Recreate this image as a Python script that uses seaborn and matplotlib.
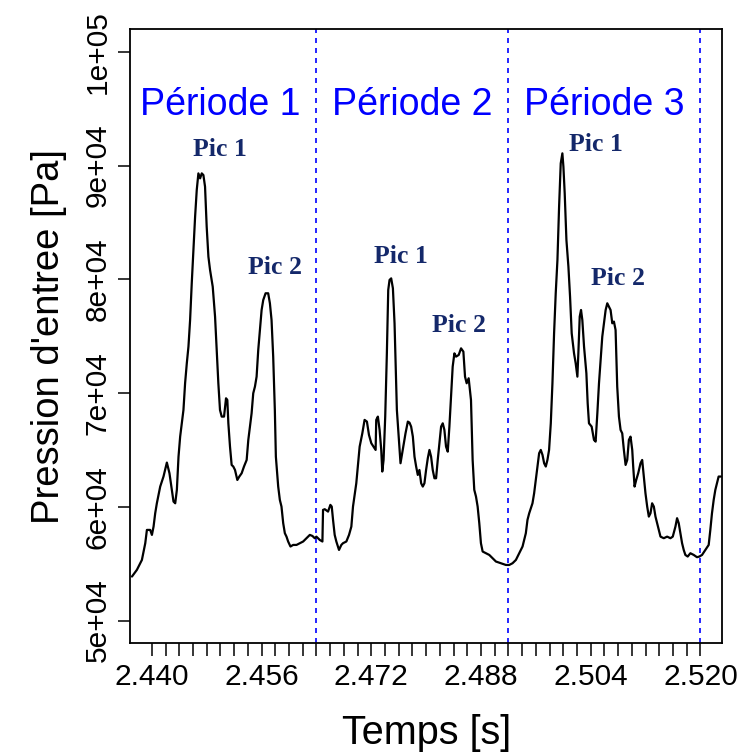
import matplotlib
matplotlib.use("Agg")
import matplotlib.pyplot as plt
import seaborn as sns
import pandas as pd
import numpy as np

# ---- data (time in s, pressure in Pa) ----
time_s = [
    2.43709, 2.43781, 2.43854, 2.43903, 2.43927, 2.43975, 2.44000, 2.44024, 2.44048, 2.44072,
    2.44121, 2.44169, 2.44218, 2.44256, 2.44290, 2.44315, 2.44340, 2.44364, 2.44388, 2.44412,
    2.44436, 2.44460, 2.44484, 2.44509, 2.44533, 2.44557, 2.44581, 2.44606, 2.44630, 2.44654,
    2.44678, 2.44703, 2.44727, 2.44751, 2.44775, 2.44799, 2.44824, 2.44848, 2.44887, 2.44921,
    2.44945, 2.44969, 2.44993, 2.45018, 2.45052, 2.45081, 2.45100, 2.45115, 2.45139, 2.45163,
    2.45187, 2.45212, 2.45246, 2.45275, 2.45309, 2.45343, 2.45382, 2.45406, 2.45454, 2.45478,
    2.45503, 2.45527, 2.45551, 2.45575, 2.45600, 2.45624, 2.45658, 2.45696, 2.45721, 2.45745,
    2.45769, 2.45793, 2.45808, 2.45842, 2.45866, 2.45890, 2.45915, 2.45939, 2.45963, 2.45987,
    2.46021, 2.46060, 2.46109, 2.46157, 2.46206, 2.46254, 2.46303, 2.46341, 2.46375, 2.46399,
    2.46448, 2.46487, 2.46496, 2.46521, 2.46569, 2.46603, 2.46623, 2.46642, 2.46666, 2.46690,
    2.46729, 2.46763, 2.46787, 2.46836, 2.46875, 2.46909, 2.46933, 2.46981, 2.47030, 2.47069,
    2.47102, 2.47136, 2.47166, 2.47200, 2.47233, 2.47263, 2.47272, 2.47296, 2.47321, 2.47345,
    2.47360, 2.47379, 2.47403, 2.47427, 2.47447, 2.47466, 2.47490, 2.47515, 2.47539, 2.47553,
    2.47573, 2.47602, 2.47626, 2.47650, 2.47675, 2.47699, 2.47733, 2.47757, 2.47781, 2.47806,
    2.47830, 2.47854, 2.47878, 2.47902, 2.47927, 2.47951, 2.47975, 2.47999, 2.48024, 2.48048,
    2.48072, 2.48096, 2.48121, 2.48145, 2.48169, 2.48193, 2.48218, 2.48242, 2.48266, 2.48290,
    2.48315, 2.48339, 2.48363, 2.48387, 2.48412, 2.48436, 2.48475, 2.48509, 2.48543, 2.48567,
    2.48591, 2.48620, 2.48654, 2.48678, 2.48702, 2.48727, 2.48751, 2.48775, 2.48799, 2.48824,
    2.48872, 2.48921, 2.48969, 2.49018, 2.49090, 2.49163, 2.49212, 2.49260, 2.49309, 2.49357,
    2.49406, 2.49454, 2.49478, 2.49503, 2.49527, 2.49551, 2.49575, 2.49599, 2.49624, 2.49648,
    2.49672, 2.49697, 2.49721, 2.49745, 2.49769, 2.49793, 2.49818, 2.49842, 2.49866, 2.49890,
    2.49915, 2.49939, 2.49963, 2.49987, 2.50002, 2.50021, 2.50046, 2.50075, 2.50099, 2.50123,
    2.50157, 2.50181, 2.50206, 2.50220, 2.50240, 2.50259, 2.50278, 2.50303, 2.50337, 2.50356,
    2.50375, 2.50414, 2.50448, 2.50472, 2.50497, 2.50521, 2.50545, 2.50569, 2.50593, 2.50618,
    2.50642, 2.50666, 2.50690, 2.50715, 2.50739, 2.50763, 2.50787, 2.50812, 2.50836, 2.50860,
    2.50884, 2.50909, 2.50933, 2.50957, 2.50981, 2.51006, 2.51020, 2.51040, 2.51064, 2.51093,
    2.51127, 2.51151, 2.51175, 2.51199, 2.51224, 2.51248, 2.51272, 2.51296, 2.51321, 2.51345,
    2.51369, 2.51393, 2.51418, 2.51466, 2.51515, 2.51563, 2.51597, 2.51636, 2.51660, 2.51684,
    2.51709, 2.51733, 2.51757, 2.51781, 2.51815, 2.51854, 2.51903, 2.51951, 2.51985, 2.52024,
    2.52072, 2.52121, 2.52145, 2.52169, 2.52194, 2.52218, 2.52242, 2.52266, 2.52300,
]
pressure_pa = [
    53870, 54460, 55330, 56800, 57970, 57970, 57530, 58260, 59430, 60310,
    61780, 62660, 63890, 62950, 61490, 60460, 60310, 61490, 64410, 66170,
    67340, 68510, 70860, 72620, 74080, 76420, 79640, 82570, 85500, 87850,
    89310, 88870, 89310, 89160, 88140, 84620, 81990, 80820, 79350, 76720,
    73790, 70860, 68510, 67930, 67930, 69540, 69390, 67340, 65290, 63680,
    63540, 63240, 62360, 62660, 62950, 63540, 64120, 65880, 68220, 69980,
    70570, 71440, 73790, 75540, 77300, 78180, 78770, 78770, 77890, 76420,
    73200, 68510, 64410, 61780, 60610, 60020, 58560, 57680, 57380, 56950,
    56510, 56650, 56650, 56800, 56950, 57240, 57530, 57440, 57240, 57380,
    57090, 56950, 59730, 59790, 59580, 60170, 60020, 58850, 57530, 56950,
    56210, 56650, 56800, 56950, 57530, 58260, 60020, 62070, 65290, 66460,
    67640, 67490, 66320, 65590, 65290, 65000, 67640, 67930, 66760, 65000,
    63100, 64120, 67930, 73490, 79060, 79940, 80080, 79210, 76130, 72910,
    68510, 65880, 63830, 64710, 65590, 66460, 67490, 67400, 67050, 66170,
    64410, 63540, 62800, 63240, 62070, 61780, 62070, 63240, 64270, 65000,
    64410, 63240, 62510, 62510, 64120, 65590, 67050, 67340, 66760, 65290,
    64850, 67050, 69690, 72320, 73490, 73200, 73350, 73930, 73640, 71440,
    70860, 71300, 69390, 64120, 61490, 60900, 60020, 58560, 56800, 56070,
    55920, 55770, 55480, 55190, 55040, 54890, 54890, 55040, 55330, 55920,
    56510, 57680, 58850, 59430, 59870, 60310, 61190, 62360, 63540, 64710,
    65000, 64560, 63830, 63540, 64120, 65000, 67340, 70860, 75250, 78770,
    81700, 86380, 90190, 91070, 89900, 87550, 83450, 81110, 78470, 75250,
    73490, 72620, 71440, 73490, 76720, 77300, 76420, 74080, 71740, 69100,
    67340, 67050, 65880, 65730, 68220, 70860, 72910, 74960, 76130, 77300,
    77890, 77590, 77300, 76130, 76280, 75540, 70570, 67930, 66760, 66460,
    65000, 63680, 64120, 65880, 66170, 65000, 63540, 61780, 62360, 62950,
    63830, 64120, 62660, 61190, 60020, 59140, 59430, 60310, 60020, 59140,
    58560, 57970, 57380, 57240, 57380, 57240, 57380, 58260, 59000, 58560,
    57680, 56800, 56210, 55770, 55630, 55920, 55770, 55570, 55630, 55770,
    56210, 56650, 57970, 59430, 60610, 61490, 62070, 62660, 62660,
]

period_bounds = [2.464, 2.492, 2.520]
period_labels = ["Période 1", "Période 2", "Période 3"]
period_label_x = [2.450, 2.478, 2.506]
period_label_y = 95300

peak_labels = ["Pic 1", "Pic 2", "Pic 1", "Pic 2", "Pic 1", "Pic 2"]
peak_x = [2.44993, 2.45793, 2.47636, 2.48484, 2.50473, 2.50797]
peak_y = [91450, 81000, 81960, 75980, 91890, 80110]

x_major_labels = [2.440, 2.456, 2.472, 2.488, 2.504, 2.520]
y_ticks = [50000, 60000, 70000, 80000, 90000, 100000]
y_ticklabels = ["5e+04", "6e+04", "7e+04", "8e+04", "9e+04", "1e+05"]

# ---- plotting ----
sns.set_theme(style="ticks")
plt.rcParams["font.family"] = ["Liberation Sans", "DejaVu Sans"]
for k in ["text.color", "axes.labelcolor", "xtick.color", "ytick.color", "axes.edgecolor"]:
    plt.rcParams[k] = "black"

fig = plt.figure(figsize=(7.41, 7.55), dpi=100)
ax = fig.add_axes([0.1754, 0.1479, 0.7994, 0.8137])

df = pd.DataFrame({"t": time_s, "p": pressure_pa})
sns.lineplot(data=df, x="t", y="p", ax=ax, color="black", linewidth=1.6,
             estimator=None, sort=False)

for xb in period_bounds:
    ax.axvline(xb, color="#0000ff", linestyle=(0, (3, 3)), linewidth=1.2, zorder=1)

for lab, xx in zip(period_labels, period_label_x):
    ax.text(xx, period_label_y, lab, color="#0000ff", fontsize=27,
            ha="center", va="center", family=["Liberation Sans", "DejaVu Sans"])

for lab, xx, yy in zip(peak_labels, peak_x, peak_y):
    ax.text(xx, yy, lab, color="#14286a", fontsize=18.5, fontweight="bold",
            ha="center", va="center", family=["Liberation Serif", "DejaVu Serif"])

# axis limits with R-style 4% expansion
xl = (2.44, 2.52)
dx = (xl[1] - xl[0]) * 0.04
ax.set_xlim(xl[0] - dx, xl[1] + dx)
yl = (50000, 100000)
dy = (yl[1] - yl[0]) * 0.04
ax.set_ylim(yl[0] - dy, yl[1] + dy)

# x ticks every 0.002, labels every 0.016
xt = [round(2.440 + 0.002 * i, 3) for i in range(41)]
xtl = [f"{v:.3f}" if any(abs(v - m) < 1e-9 for m in x_major_labels) else "" for v in xt]
ax.set_xticks(xt)
ax.set_xticklabels(xtl)
ax.set_yticks(y_ticks)
ax.set_yticklabels(y_ticklabels, rotation=90, va="center")

ax.tick_params(axis="x", length=9, width=1.1, color="black", labelcolor="black",
               labelsize=21.5, pad=5)
ax.tick_params(axis="y", length=9, width=1.1, color="black", labelcolor="black",
               labelsize=21.5, pad=4)

ax.set_xlabel("Temps [s]", fontsize=28.5, color="black", labelpad=17)
ax.set_ylabel("Pression d'entree [Pa]", fontsize=27.5, color="black", labelpad=12)

for s in ax.spines.values():
    s.set_visible(True)
    s.set_color("black")
    s.set_linewidth(1.3)

ax.set_facecolor("white")
fig.patch.set_facecolor("white")
fig.savefig("out.png", dpi=100, facecolor="white")
